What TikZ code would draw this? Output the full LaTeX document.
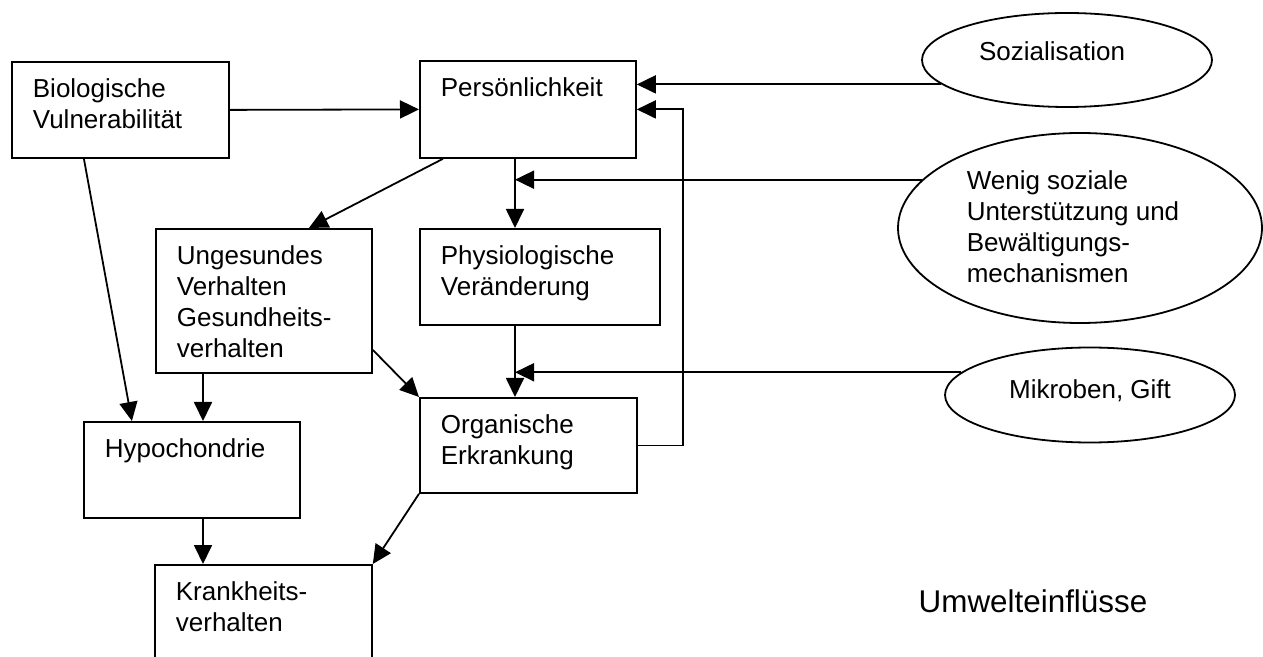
\documentclass[tikz,border=0pt]{standalone}
\usepackage{fontspec}
\setmainfont{Liberation Sans}
\usetikzlibrary{arrows.meta,shapes.geometric}

% text of a box, set at its top left
\newcommand{\boxtxt}[3]{\parbox[c][#2][t]{#1}{\raggedright\leftskip=10.5pt\vspace*{6.9pt}\strut #3}}

\begin{document}
\begin{tikzpicture}[x=0.5pt, y=-0.5pt,
    every node/.style={font=\fontsize{13pt}{15.5pt}\selectfont},
    blk/.style={draw, line width=0.9pt, inner sep=0pt, anchor=north west},
    oval/.style={draw, ellipse, line width=0.9pt, inner sep=0pt},
    arr/.style={line width=0.9pt, -{Triangle[length=9.5pt,width=9pt]}}]
    \useasboundingbox (0,0) rectangle (1263,657);

    % boxes
    \node [blk] (bio) at (11,61) {\boxtxt{108.5pt}{48pt}{Biologische\\Vulnerabilität}};
    \node [blk] (pers) at (419,60) {\boxtxt{108pt}{48.5pt}{Persönlichkeit}};
    \node [blk] (unges) at (155,228) {\boxtxt{108pt}{72pt}{Ungesundes\\Verhalten\\Gesundheits-\\verhalten}};
    \node [blk] (phys) at (419,228) {\boxtxt{120pt}{48pt}{Physiologische\\Veränderung}};
    \node [blk] (org) at (419,397) {\boxtxt{108.5pt}{47.5pt}{Organische\\Erkrankung}};
    \node [blk] (hypo) at (83,421) {\boxtxt{108pt}{48pt}{Hypochondrie}};
    \node [blk] (krank) at (154,564) {\boxtxt{108.5pt}{68pt}{Krankheits-\\verhalten}};

    % ellipses
    \node [oval, minimum width=145pt, minimum height=47pt,
        label={[xshift=-7.5pt, yshift=4.25pt]center:Sozialisation}] (soz) at (1067,60) {};
    \node [oval, minimum width=182pt, minimum height=95pt,
        label={[align=left, xshift=-3.5pt, yshift=0.5pt]center:{Wenig soziale\\Unterstützung und\\Bewältigungs-\\mechanismen}}] (wen) at (1080,228) {};
    \node [oval, minimum width=145pt, minimum height=47.5pt,
        label={[yshift=2.25pt]center:{Mikroben, Gift}}] (mik) at (1090,395) {};

    \node [anchor=base, font=\fontsize{15.7pt}{18pt}\selectfont] (umw) at (1033,612) {Umwelteinflüsse};

    \coordinate (cx) at (515,0);
    \coordinate (fb) at (683,0);
    \coordinate (hx) at (203,0);

    % arrows
    \draw [arr] (bio.east) -- (pers.west);
    \draw [arr] (soz.191) -- (soz.191 -| pers.east);
    \draw [arr] (pers.south -| cx) -- (phys.north -| cx);
    \draw [arr] (wen.163) -- (wen.163 -| cx);
    \draw [arr] (phys.south -| cx) -- (org.north -| cx);
    \draw [arr] (mik.170) -- (mik.170 -| cx);
    \draw [arr] (org.east) -- (org.east -| fb) -- (pers.east -| fb) -- (pers.east);
    \draw [arr] ([xshift=12pt]pers.south west) -- ([xshift=22.5pt]unges.north);
    \draw [arr] ([xshift=-18.25pt]bio.south) -- ([xshift=-30pt]hypo.north);
    \draw [arr] (unges.south -| hx) -- (hypo.north -| hx);
    \draw [arr] ([yshift=-24.5pt]unges.east) -- (org.north west);
    \draw [arr] (hypo.south -| hx) -- (krank.north -| hx);
    \draw [arr] (org.south west) -- (krank.north east);
\end{tikzpicture}
\end{document}
